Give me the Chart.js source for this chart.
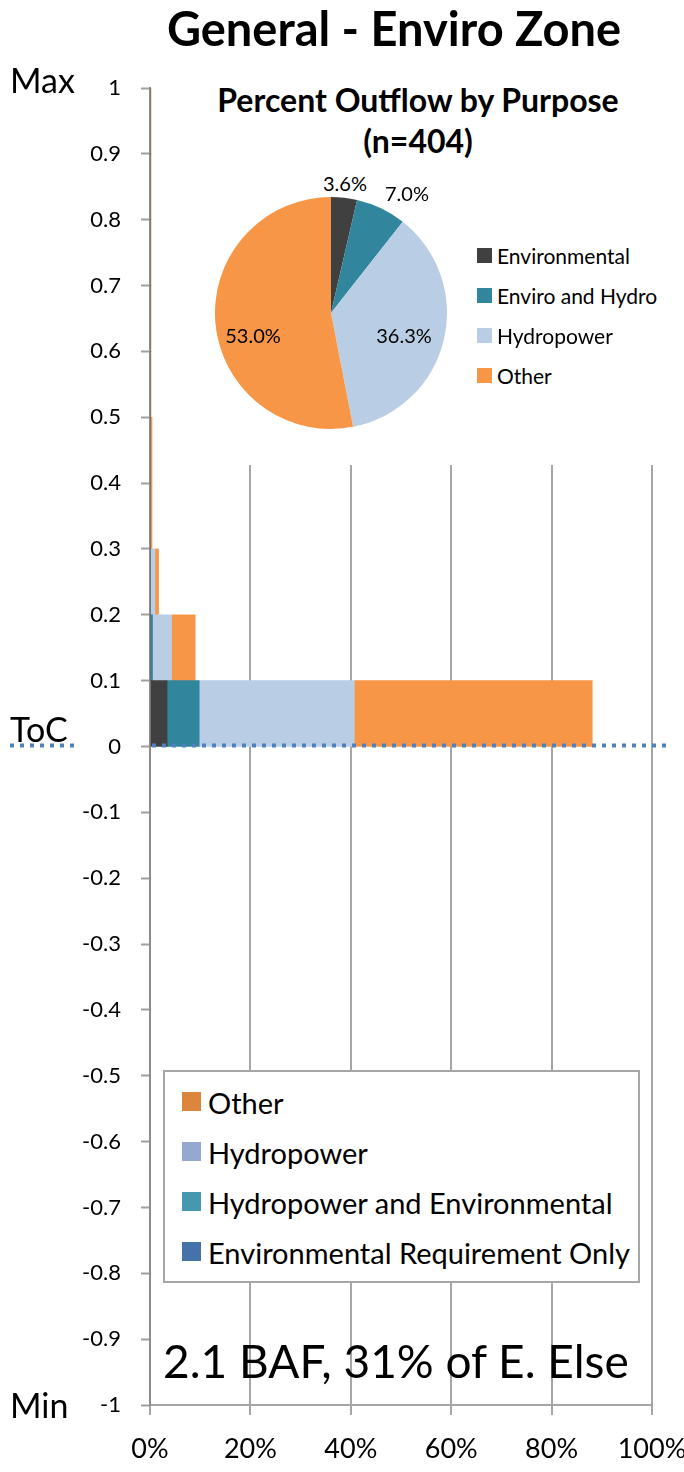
<!DOCTYPE html>
<html>
<head>
<meta charset="utf-8">
<script src="https://cdn.jsdelivr.net/npm/chart.js@4.4.0/dist/chart.umd.min.js"></script>
<style>
  html, body { margin: 0; padding: 0; background: #fff; }
  body { width: 684px; height: 1472px; position: relative; overflow: hidden; font-family: Lato, "Open Sans", sans-serif; color: #000; }
  .t { position: absolute; white-space: nowrap; line-height: 1; }
  .mid { transform: translateY(-50%); }
  .ctr { transform: translate(-50%, -50%); }
  #bars { position: absolute; left: 0; top: 0; }
  #pieBox { position: absolute; left: 160px; top: 68px; width: 524px; height: 397px; background: #fff; }
  #pie { position: absolute; left: 55px; top: 129px; }
  #legendBox { position: absolute; left: 163px; top: 1070px; width: 473px; height: 209px; background: #fff; border: 2px solid #a6a6a6; }
  .sw { position: absolute; }
</style>
</head>
<body>
<canvas id="bars" width="684" height="1472"></canvas>

<div class="t ctr" style="left:394px; top:28px; font-size:47px; font-weight:700;">General - Enviro Zone</div>
<div class="t mid" style="left:10px; top:80px; font-size:34px;">Max</div>
<div class="t mid" style="left:10px; top:729px; font-size:34px;">ToC</div>
<div class="t mid" style="left:10px; top:1405px; font-size:34px;">Min</div>

<div id="pieBox">
  <div class="t ctr" style="left:258px; top:32px; font-size:32px; font-weight:700;">Percent Outflow by Purpose</div>
  <div class="t ctr" style="left:258px; top:73px; font-size:32px; font-weight:700;">(n=404)</div>
  <canvas id="pie" width="232" height="232"></canvas>
  <div id="pieLabels"></div>
  <div id="pieLegend"></div>
</div>

<div id="legendBox"></div>

<div class="t mid" style="left:163px; top:1361px; font-size:46px;">2.1 BAF, 31% of E. Else</div>

<script>
// Storage bands (fraction of zone, centre of each 0.1-high band)
const bandCenters = [0.05, 0.15, 0.25, 0.35, 0.45, 0.55, 0.65, 0.75, 0.85, 0.95];

// Percent of outflow days in each band, by purpose
const environmentalOnly = [3.4, 0, 0, 0, 0, 0, 0, 0, 0, 0];
const hydroAndEnviro    = [6.4, 0.5, 0, 0, 0, 0, 0, 0, 0, 0];
const hydropowerOnly    = [30.9, 3.8, 1.0, 0, 0, 0, 0, 0, 0, 0];
const otherPurpose      = [47.4, 4.7, 0.7, 0.4, 0.4, 0.1, 0.1, 0.1, 0.1, 0.1];

// Axis tick labels
const xTickLabels = ['0%', '20%', '40%', '60%', '80%', '100%'];
const yTickLabels = ['-1', '-0.9', '-0.8', '-0.7', '-0.6', '-0.5', '-0.4', '-0.3', '-0.2', '-0.1',
                     '0', '0.1', '0.2', '0.3', '0.4', '0.5', '0.6', '0.7', '0.8', '0.9', '1'];

// Top of conservation level
const tocLevel = 0;

// Pie: share of outflow by purpose
const pieCategories = ['Environmental', 'Enviro and Hydro', 'Hydropower', 'Other'];
const pieShares = [3.6, 7.0, 36.3, 53.0];

// Legend entries of the band chart
const legendNames = ['Other', 'Hydropower', 'Hydropower and Environmental', 'Environmental Requirement Only'];

const COL = { env: '#404040', envHydro: '#31859c', hydro: '#b9cde5', other: '#f79646' };
const LEGEND_COL = ['#dc853d', '#95a9d0', '#4598ae', '#4572a8'];

Chart.defaults.font.family = 'Lato, "Open Sans", sans-serif';
Chart.defaults.color = '#000';

function toPoints(values) {
  return values.map((v, i) => ({ x: v, y: bandCenters[i] }));
}

const tocPlugin = {
  id: 'tocLine',
  afterDatasetsDraw(chart) {
    const { ctx, scales } = chart;
    const y = scales.y.getPixelForValue(tocLevel) - 1;
    ctx.save();
    ctx.strokeStyle = '#4f81bd';
    ctx.lineWidth = 4;
    ctx.setLineDash([4, 6]);
    ctx.beginPath();
    ctx.moveTo(10, y); ctx.lineTo(74, y);
    ctx.moveTo(chart.chartArea.left + 2, y); ctx.lineTo(670, y);
    ctx.stroke();
    ctx.restore();
  }
};

const barDefaults = { borderWidth: 0, barPercentage: 1, categoryPercentage: 1 };

new Chart(document.getElementById('bars'), {
  type: 'bar',
  data: {
    datasets: [
      { label: 'Environmental', data: toPoints(environmentalOnly), backgroundColor: COL.env, ...barDefaults },
      { label: 'Enviro and Hydro', data: toPoints(hydroAndEnviro), backgroundColor: COL.envHydro, ...barDefaults },
      { label: 'Hydropower', data: toPoints(hydropowerOnly), backgroundColor: COL.hydro, ...barDefaults },
      { label: 'Other', data: toPoints(otherPurpose), backgroundColor: COL.other, ...barDefaults }
    ]
  },
  options: {
    indexAxis: 'y',
    responsive: false,
    animation: false,
    layout: { padding: { top: 88, right: 32, bottom: 0, left: 0 } },
    plugins: { legend: { display: false }, tooltip: { enabled: false } },
    scales: {
      x: {
        type: 'linear', min: 0, max: 100, stacked: true,
        ticks: { stepSize: 20, font: { size: 27 }, padding: 18,
                 callback: (v) => xTickLabels[Math.round(v / 20)] },
        grid: { color: '#a6a6a6', lineWidth: 2, tickLength: 10, tickColor: '#a6a6a6' },
        border: { color: '#a6a6a6', width: 2 },
        afterFit: (s) => { s.height = 67; s.paddingLeft = 0; s.paddingRight = 0; }
      },
      y: {
        type: 'linear', min: -1, max: 1, stacked: true, offset: false,
        ticks: { stepSize: 0.1, font: { size: 22 }, padding: 20, autoSkip: false,
                 callback: (v) => yTickLabels[Math.round((v + 1) * 10)] },
        grid: { drawOnChartArea: false, offset: false, tickLength: 9, tickColor: '#a0a0a0', tickWidth: 2 },
        border: { color: '#8c8c8c', width: 2 },
        afterFit: (s) => { s.width = 150; s.paddingTop = 0; s.paddingBottom = 0; }
      }
    }
  },
  plugins: [tocPlugin]
});

const PIE_COL = [COL.env, COL.envHydro, COL.hydro, COL.other];

new Chart(document.getElementById('pie'), {
  type: 'pie',
  data: { labels: pieCategories, datasets: [{ data: pieShares, backgroundColor: PIE_COL, borderWidth: 0 }] },
  options: {
    responsive: false, animation: false,
    plugins: { legend: { display: false }, tooltip: { enabled: false } }
  }
});

// Slice value labels (box-relative positions)
const pieLabelPos = [[185, 115], [247, 125], [244, 267], [93, 267]];
const pieLabelHost = document.getElementById('pieLabels');
pieShares.forEach((v, i) => {
  const d = document.createElement('div');
  d.className = 't ctr';
  d.style.cssText = `left:${pieLabelPos[i][0]}px; top:${pieLabelPos[i][1]}px; font-size:20px;`;
  d.textContent = v.toFixed(1) + '%';
  pieLabelHost.appendChild(d);
});

// Pie legend
const pieLegendHost = document.getElementById('pieLegend');
pieCategories.forEach((name, i) => {
  const y = 187 + i * 40;
  const sw = document.createElement('div');
  sw.className = 'sw';
  sw.style.cssText = `left:317px; top:${y - 7}px; width:15px; height:15px; background:${PIE_COL[i]};`;
  const tx = document.createElement('div');
  tx.className = 't mid';
  tx.style.cssText = `left:337px; top:${y}px; font-size:21px;`;
  tx.textContent = name;
  pieLegendHost.appendChild(sw);
  pieLegendHost.appendChild(tx);
});

// Band chart legend
const legendHost = document.getElementById('legendBox');
legendNames.forEach((name, i) => {
  const y = 30 + i * 50;
  const sw = document.createElement('div');
  sw.className = 'sw';
  sw.style.cssText = `left:17px; top:${y - 10}px; width:19px; height:19px; background:${LEGEND_COL[i]};`;
  const tx = document.createElement('div');
  tx.className = 't mid';
  tx.style.cssText = `left:43px; top:${y}px; font-size:29px;`;
  tx.textContent = name;
  legendHost.appendChild(sw);
  legendHost.appendChild(tx);
});
</script>
</body>
</html>
